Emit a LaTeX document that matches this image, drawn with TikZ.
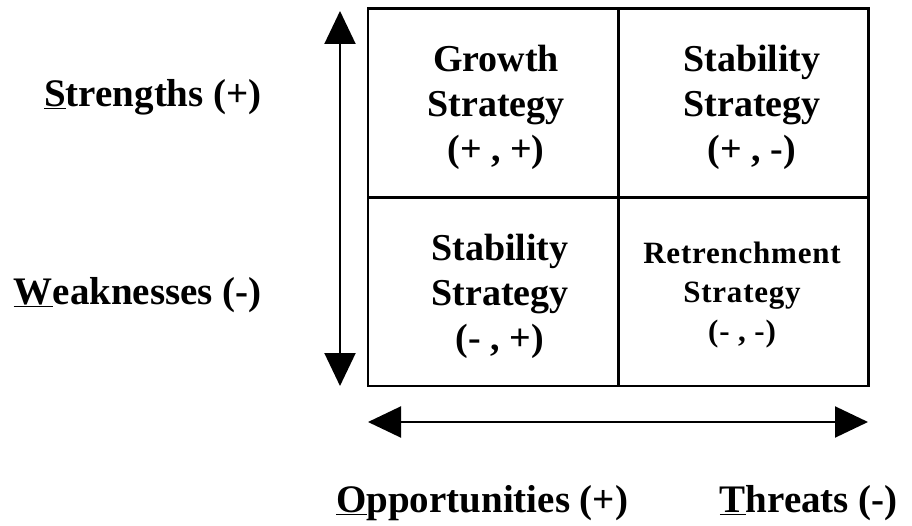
\documentclass[tikz,border=0pt]{standalone}
\usepackage{fontspec}
\setmainfont{Liberation Serif}
\usetikzlibrary{arrows.meta}
\tikzset{
  cell/.style={draw, line width=2.4pt, minimum width=250pt, minimum height=189pt, inner sep=0pt},
  celltext/.style={font=\fontsize{38}{45}\selectfont\bfseries, align=center, inner sep=0pt},
  smalltext/.style={font=\fontsize{31}{39}\selectfont\bfseries\addfontfeature{LetterSpace=2.5}, align=center, inner sep=0pt},
  axislabel/.style={font=\fontsize{39}{45}\selectfont\bfseries, inner sep=0pt},
  axis/.style={line width=2pt, {Triangle[length=33pt,width=31pt]}-{Triangle[length=33pt,width=31pt]}}
}
\begin{document}
\begin{tikzpicture}[x=1pt,y=-1pt]
\useasboundingbox (0,0) rectangle (912,526);
\node[cell] (gs) at (493,103) {};
\node[cell] (ss) at (743.5,103) {};
\node[cell] (sw) at (493,291.5) {};
\node[cell] (rt) at (743.5,291.5) {};
\node[celltext] (tgs) at (496,107) {Growth\\Strategy\\(+ , +)};
\node[celltext] (tss) at (752,107) {Stability\\Strategy\\(+ , -)};
\node[celltext] (tsw) at (500,296) {Stability\\Strategy\\(- , +)};
\node[smalltext] (trt) at (742,295) {Retrenchment\\Strategy\\(- , -)};
\coordinate (vt) at (340,11);
\coordinate (vb) at (340,386);
\coordinate (hl) at (368,422);
\coordinate (hr) at (868,422);
\draw[axis] (vb) -- (vt);
\draw[axis] (hl) -- (hr);
\node[axislabel, anchor=east] (str) at (262,97) {\underline{S}trengths (+)};
\node[axislabel, anchor=east] (wk) at (262,295) {\underline{W}eaknesses (-)};
\node[axislabel, anchor=west] (op) at (336,503) {\underline{O}pportunities (+)};
\node[axislabel, anchor=east] (th) at (898,503) {\underline{T}hreats (-)};
\end{tikzpicture}
\end{document}
